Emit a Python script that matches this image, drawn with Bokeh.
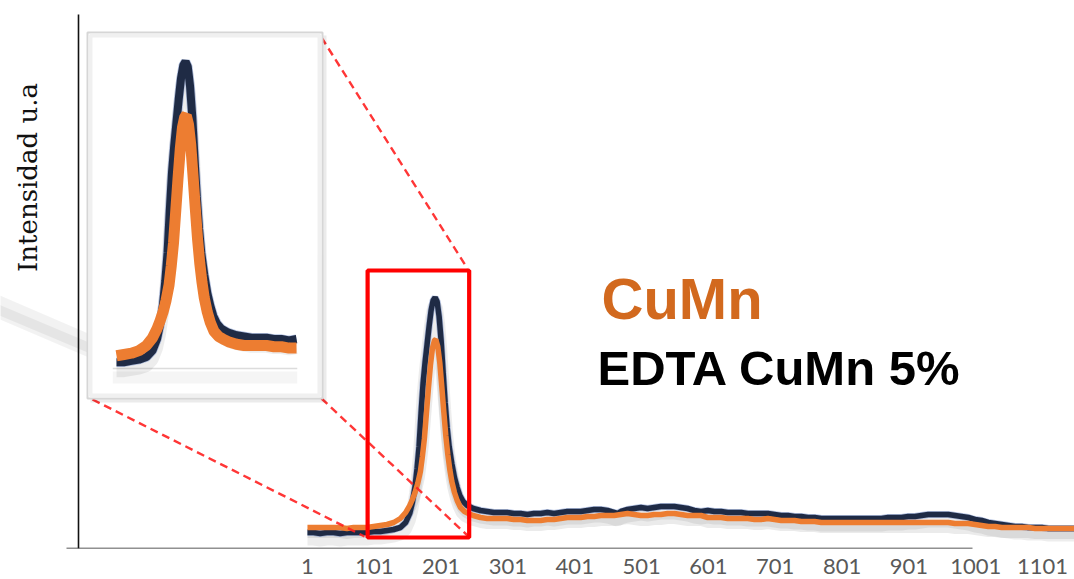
import numpy as np
from bokeh.plotting import figure
from bokeh.models import Range1d, FixedTicker, Label
from bokeh.embed import file_html
from bokeh.resources import INLINE

# ---------------- data ----------------
edta_x = [1, 10, 20, 30, 40, 50, 60, 70, 80, 90, 100, 110, 120, 130, 140, 148, 154, 158, 162, 165,
          168, 171, 174, 177, 180, 183, 186, 189, 192, 195, 198, 201, 204, 207, 210, 213, 217, 221,
          225, 229, 234, 240, 249, 260, 270, 280, 290, 300, 310, 320, 330, 340, 350, 360, 370, 380,
          390, 400, 410, 420, 430, 440, 450, 460, 465, 470, 480, 490, 500, 510, 520, 530, 540, 550,
          560, 570, 580, 590, 600, 610, 620, 630, 640, 650, 660, 670, 680, 690, 700, 710, 720, 730,
          740, 750, 760, 770, 780, 790, 800, 810, 820, 830, 840, 850, 860, 870, 880, 890, 900, 910,
          920, 930, 940, 950, 960, 970, 980, 990, 1000, 1010, 1020, 1030, 1040, 1050, 1060, 1070,
          1080, 1090, 1100, 1110, 1120, 1130, 1140, 1150]
edta_y = [16, 16, 15, 16, 16, 15, 16, 16, 16, 16, 17, 17, 18, 19, 21, 26, 35, 46, 62, 80,
          102, 135, 165, 186, 204, 222, 238, 248, 251, 247, 232, 208, 176, 146, 121, 102, 85, 71,
          61, 53, 47, 43, 40, 38, 37, 36, 36, 36, 35, 35, 34, 35, 35, 36, 35, 36,
          37, 37, 37, 38, 39, 39, 38, 36, 35, 37, 39, 40, 41, 40, 41, 42, 42, 42,
          41, 40, 38, 37, 38, 37, 37, 36, 36, 36, 35, 35, 35, 35, 34, 33, 33, 32,
          32, 31, 31, 30, 30, 30, 30, 30, 30, 30, 30, 30, 30, 31, 31, 31, 32, 32,
          33, 34, 34, 34, 34, 33, 32, 31, 29, 28, 26, 25, 24, 23, 22, 22,
          21, 21, 21, 20, 20, 20, 20, 20]

cumn_x = [1, 10, 20, 30, 40, 50, 60, 70, 80, 90, 100, 110, 120, 130, 140, 148, 154, 158, 162, 166,
          170, 173, 176, 179, 182, 185, 188, 191, 193, 196, 199, 202, 205, 208, 211, 214, 217, 221,
          225, 230, 236, 242, 249, 260, 270, 280, 290, 300, 310, 320, 330, 340, 350, 360, 370, 380,
          390, 400, 410, 420, 430, 440, 450, 460, 470, 480, 490, 500, 510, 520, 530, 540, 550, 560,
          570, 580, 590, 600, 610, 620, 630, 640, 650, 660, 670, 680, 690, 700, 710, 720, 730, 740,
          750, 760, 770, 780, 790, 800, 810, 820, 830, 840, 850, 860, 870, 880, 890, 900, 910, 920,
          930, 940, 950, 960, 970, 980, 990, 1000, 1010, 1020, 1030, 1040, 1050, 1060, 1070, 1080,
          1090, 1100, 1110, 1120, 1130, 1140, 1150]
cumn_y = [21, 21, 21, 21, 21, 21, 20, 21, 21, 21, 22, 23, 24, 26, 30, 36, 43, 49, 56, 65,
          77, 92, 110, 135, 160, 183, 200, 208, 209, 202, 186, 162, 137, 113, 94, 79, 67, 56,
          48, 41, 37, 35, 33, 31, 30, 30, 30, 30, 29, 29, 28, 28, 28, 29, 29, 30,
          31, 31, 31, 32, 32, 33, 33, 33, 34, 35, 34, 33, 33, 34, 34, 35, 35, 34,
          33, 33, 33, 31, 31, 31, 30, 30, 30, 30, 29, 29, 30, 29, 28, 28, 28, 27,
          27, 27, 26, 26, 26, 26, 26, 26, 26, 26, 26, 26, 26, 26, 26, 26, 26, 26,
          26, 26, 26, 26, 25, 25, 25, 24, 23, 22, 22, 21, 21, 21, 21, 21,
          20, 20, 20, 20, 20, 20, 20]

tick_values = [1, 101, 201, 301, 401, 501, 601, 701, 801, 901, 1001, 1101]
series_names = ["CuMn", "EDTA CuMn 5%"]
axis_title = "Intensidad u.a"

# zoom window (red box) and inset window, in channel / intensity units
zoom_x = [91, 243]
zoom_y = [11, 278]
inset_x = [95, 341]

NAVY = "#1f2b45"
ORANGE = "#ed7d31"
LABEL_ORANGE = "#d2691e"

# ---------------- figure ----------------
W, H, FH = 1074, 579, 548
X0, X1 = -458.4, 1148.9
Y0, Y1 = 0.0, 548.0

p = figure(width=W, height=H, x_range=Range1d(X0, X1), y_range=Range1d(Y0, Y1),
           output_backend="svg", toolbar_location=None, y_axis_location=None,
           min_border_left=0, min_border_right=0, min_border_top=0, min_border_bottom=31)
p.extra_x_ranges = {"inset": Range1d(-54.7, 1377.3)}
p.extra_y_ranges = {"inset": Range1d(-128.0, 298.5)}
p.xgrid.visible = False
p.ygrid.visible = False
p.outline_line_color = None
p.background_fill_color = "white"
p.border_fill_color = "white"

ax = p.xaxis[0]
ax.ticker = FixedTicker(ticks=tick_values)
ax.axis_line_color = None
ax.major_tick_line_color = None
ax.minor_tick_line_color = None
ax.major_label_standoff = 4
ax.major_label_text_font = "Lato"
ax.major_label_text_font_size = "22px"
ax.major_label_text_color = "#595959"


def px2x(px):
    return X0 + px * (X1 - X0) / W


def py2y(py):
    return Y1 - py * (Y1 - Y0) / FH


# faint background swoosh
p.line([px2x(-5), px2x(95)], [py2y(305), py2y(348)], color="#000000", alpha=0.05, line_width=22)
p.line([px2x(-5), px2x(95)], [py2y(308), py2y(350)], color="#000000", alpha=0.05, line_width=10)

# axes lines
p.line([px2x(78), px2x(78)], [py2y(14), py2y(548)], color="#111111", line_width=1.6)
p.line([px2x(66), px2x(972)], [py2y(548), py2y(548)], color="#222222", line_width=1.6)

ex = np.array(edta_x, float)
ey = np.array(edta_y, float)
cx = np.array(cumn_x, float)
cy = np.array(cumn_y, float)

# main curves with soft shadow
p.line(ex, ey - 7, color="#000000", alpha=0.07, line_width=12)
p.line(cx, cy - 6, color="#000000", alpha=0.08, line_width=9)
p.line(ex, ey, color="#5b7bbf", alpha=0.45, line_width=7)
p.line(ex, ey, color=NAVY, line_width=5.5)
p.line(cx, cy, color=ORANGE, line_width=5.5)

# dashed connector lines
dash = dict(color="#ff2020", alpha=0.9, line_width=2.4, line_dash="8 5")
p.line([px2x(321), px2x(467)], [py2y(37), py2y(268)], **dash)
p.line([px2x(92), px2x(364)], [py2y(399), py2y(536)], **dash)
p.line([px2x(321), px2x(467)], [py2y(398), py2y(535)], **dash)

# red zoom rectangle
p.quad(left=zoom_x[0], right=zoom_x[1], bottom=zoom_y[0], top=zoom_y[1],
       fill_color=None, line_color="#ff0000", line_width=4.2)

# inset panel
p.quad(left=px2x(90), right=px2x(326), bottom=py2y(402), top=py2y(35),
       fill_color="#000000", fill_alpha=0.08, line_color=None)
p.quad(left=px2x(87), right=px2x(322), bottom=py2y(398), top=py2y(32),
       fill_color="white", line_color="#d6d6d6", line_width=2)
p.quad(left=px2x(90), right=px2x(319), bottom=py2y(395), top=py2y(35),
       fill_color=None, line_color="#f0f0f0", line_width=4)

# inset content (same data, zoomed scale)
mi_e = (ex >= inset_x[0]) & (ex <= inset_x[1])
mi_c = (cx >= inset_x[0]) & (cx <= inset_x[1])
base_x = [inset_x[0], inset_x[1]]
p.line(base_x, [5.0, 5.0], x_range_name="inset", y_range_name="inset",
       color="#000000", alpha=0.04, line_width=12)
p.line(base_x, [12.0, 12.0], x_range_name="inset", y_range_name="inset",
       color="#dcdcdc", line_width=1.5)
p.line(ex[mi_e], ey[mi_e] - 7, x_range_name="inset", y_range_name="inset",
       color="#000000", alpha=0.07, line_width=12)
p.line(ex[mi_e], ey[mi_e], x_range_name="inset", y_range_name="inset",
       color="#5b7bbf", alpha=0.45, line_width=9.5)
p.line(ex[mi_e], ey[mi_e], x_range_name="inset", y_range_name="inset",
       color=NAVY, line_width=8)
p.line(cx[mi_c], cy[mi_c], x_range_name="inset", y_range_name="inset",
       color=ORANGE, line_width=11)

# texts
p.add_layout(Label(x=px2x(27), y=py2y(177), text=axis_title, angle=np.pi / 2,
                   text_align="center", text_baseline="alphabetic",
                   text_font="DejaVu Serif", text_font_size="26px", text_color="#111111"))
p.add_layout(Label(x=px2x(601), y=py2y(298), text=series_names[0],
                   text_font="Liberation Sans", text_font_style="bold",
                   text_font_size="58px", text_color=LABEL_ORANGE, text_baseline="alphabetic"))
p.add_layout(Label(x=px2x(597), y=py2y(367), text=series_names[1],
                   text_font="Liberation Sans", text_font_style="bold",
                   text_font_size="49px", text_color="#000000", text_baseline="alphabetic"))

open("out.html", "w").write(file_html(p, INLINE))
